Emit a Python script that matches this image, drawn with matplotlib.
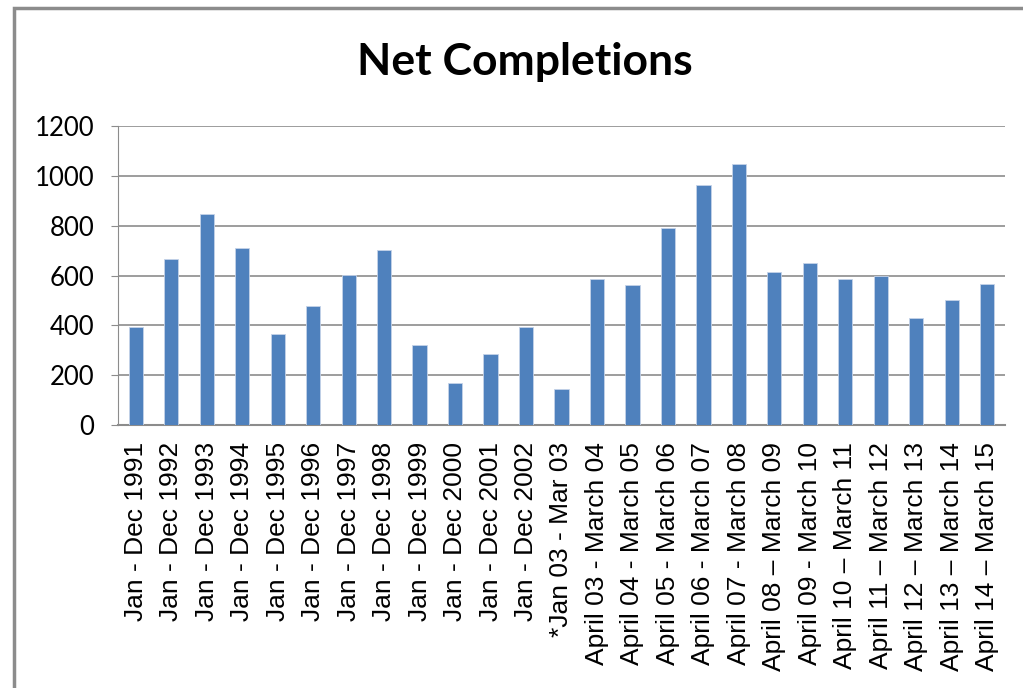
import matplotlib.pyplot as plt
import matplotlib.patches as patches
import numpy as np

periodos = [
    'Jan - Dec 1991', 'Jan - Dec 1992', 'Jan - Dec 1993', 'Jan - Dec 1994',
    'Jan - Dec 1995', 'Jan - Dec 1996', 'Jan - Dec 1997', 'Jan - Dec 1998',
    'Jan - Dec 1999', 'Jan - Dec 2000', 'Jan - Dec 2001', 'Jan - Dec 2002',
    '*Jan 03 - Mar 03',
    'April 03 - March 04', 'April 04 - March 05', 'April 05 - March 06',
    'April 06 - March 07', 'April 07 - March 08', 'April 08 \u2013 March 09',
    'April 09 - March 10', 'April 10 \u2013 March 11', 'April 11 \u2013 March 12',
    'April 12 \u2013 March 13', 'April 13 \u2013 March 14', 'April 14 \u2013 March 15',
]
completions = [395, 668, 846, 710, 364, 477, 601, 704, 322, 169, 286, 395,
               143, 584, 560, 790, 965, 1048, 615, 652, 584, 597, 430, 502, 564]
yticks = [0, 200, 400, 600, 800, 1000, 1200]

fig = plt.figure(figsize=(10.23, 6.88), dpi=100)

# borde del area del grafico (recortado a la derecha y abajo)
borde = patches.Rectangle((14 / 1023, -0.05), 1.1, 1 - 8 / 688 + 0.05,
                          transform=fig.transFigure, fill=False,
                          edgecolor='#8c8c8c', linewidth=2.5)
fig.patches.append(borde)

ax = fig.add_axes([118 / 1023, 1 - 425 / 688, (1005 - 118) / 1023, (425 - 126) / 688])

x = np.arange(len(periodos))
ax.bar(x, completions, width=0.4, color='#4F81BD', edgecolor='#c5d3e8',
       linewidth=0.6, zorder=3)

ax.set_xlim(-0.5, len(periodos) - 0.5)
ax.set_ylim(0, 1200)
ax.set_yticks(yticks)
ax.set_yticklabels([str(v) for v in yticks], fontsize=18.5, family='Lato')
ax.set_xticks(x)
ax.set_xticklabels(periodos, rotation=90, fontsize=19, family='Liberation Sans')

ax.grid(axis='y', color='#8c8c8c', linewidth=1.2, zorder=0)
for lado in ['top', 'right']:
    ax.spines[lado].set_visible(False)
ax.spines['left'].set_color('#8c8c8c')
ax.spines['bottom'].set_color('#8c8c8c')
ax.spines['bottom'].set_linewidth(1.5)
ax.tick_params(axis='x', length=0, pad=12)
ax.tick_params(axis='y', length=5, color='#8c8c8c', pad=12)

fig.text(525 / 1023, 1 - 62 / 688, 'Net Completions', ha='center', va='center',
         fontsize=32, fontweight='bold', family='Lato')

plt.savefig('out.png', dpi=100)
